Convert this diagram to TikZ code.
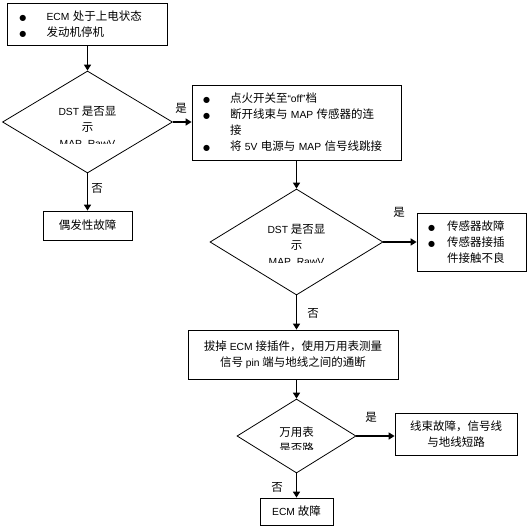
\documentclass[tikz,border=0pt]{standalone}
\usepackage{fontspec}
\setmainfont{Liberation Sans}
\newfontfamily\cjk{Noto Sans CJK SC}
\newfontfamily\dejavu{DejaVu Sans}
\usetikzlibrary{shapes.geometric,arrows.meta}
\newcommand\zh[1]{{\cjk\fontsize{11.5}{16}\selectfont #1}}
\newcommand\bul[1]{\makebox[#1][l]{\dejavu\fontsize{8}{8}\selectfont ●}}
\begin{document}
\begin{tikzpicture}[x=1pt,y=-1pt,
  every node/.style={font=\fontsize{10.3}{16}\selectfont},
  box/.style={draw,line width=0.8pt,inner ysep=0pt,inner xsep=0pt},
  bbox/.style={box,align=left,inner xsep=11pt},
  dia/.style={draw,diamond,line width=0.8pt,inner sep=0pt},
  conn/.style={line width=1.5pt,-{Triangle[length=6pt,width=7pt]}},
  lbl/.style={inner sep=0pt}]
\useasboundingbox (0,0) rectangle (529,527);
% boxes
\node[bbox,inner xsep=12pt,text width=136pt,minimum height=42pt] (b1) at (87.5,24)
  {\bul{27pt}ECM \zh{处于上电状态}\\\bul{27pt}\zh{发动机停机}};
\node[dia,minimum width=170pt,minimum height=102pt] (d1) at (87.5,122) {};
\node[box,minimum width=89pt,minimum height=29pt] (b7) at (87.5,225.5) {\zh{偶发性故障}};
\node[bbox,text width=187pt,minimum height=75pt] (b2) at (296.5,122.5)
  {\bul{27pt}\zh{点火开关至}“off”\zh{档}\\
   \bul{27pt}\zh{断开线束与} MAP \zh{传感器的连}\\
   \hspace*{27pt}\zh{接}\\
   \bul{27pt}\zh{将} 5V \zh{电源与} MAP \zh{信号线跳接}};
\node[dia,minimum width=173pt,minimum height=106pt] (d2) at (296.5,242) {};
\node[bbox,text width=87pt,minimum height=58pt] (b3) at (471.5,242)
  {\bul{19pt}\zh{传感器故障}\\\bul{19pt}\zh{传感器接插}\\\hspace*{19pt}\zh{件接触不良}};
\node[box,align=center,minimum width=210pt,minimum height=49pt] (b4) at (293,354.5)
  {\zh{拔掉} ECM \zh{接插件，使用万用表测量}\\\zh{信号} pin \zh{端与地线之间的通断}};
\node[dia,minimum width=119pt,minimum height=74pt] (d3) at (296.5,436) {};
\node[box,align=center,minimum width=122pt,minimum height=42pt] (b5) at (456,434)
  {\zh{线束故障，信号线}\\\zh{与地线短路}};
\node[box,minimum width=73pt,minimum height=27pt] (b6) at (296.5,511.5) {ECM \zh{故障}};
% clipped diamond texts
\begin{scope}
  \clip (0,90) rectangle (176,143);
  \node[align=center,lbl] (t1) at (87.5,128) {DST \zh{是否显}\\\zh{示}\\MAP\_RawV};
\end{scope}
\begin{scope}
  \clip (200,200) rectangle (390,262.5);
  \node[align=center,lbl] (t2) at (296.5,246) {DST \zh{是否显}\\\zh{示}\\MAP\_RawV};
\end{scope}
\begin{scope}
  \clip (240,410) rectangle (350,449);
  \node[align=center,lbl] (t3) at (296.5,440) {\zh{万用表}\\\zh{是否路}};
\end{scope}
% connectors
\draw[conn] (b1) -- (d1);
\draw[conn] (d1.east) -- (d1.east -| b2.west);
\draw[conn] (d1) -- (b7);
\draw[conn] (b2) -- (d2);
\draw[conn] (d2.east) -- (d2.east -| b3.west);
\draw[conn] (d2.south) -- (d2.south |- b4.north);
\draw[conn] (b4.south -| d3.north) -- (d3.north);
\draw[conn] (d3.east) -- (d3.east -| b5.west);
\draw[conn] (d3) -- (b6);
% labels
\node[lbl] (y1) at (181,108) {\zh{是}};
\node[lbl] (n1) at (97,188) {\zh{否}};
\node[lbl] (y2) at (399,212) {\zh{是}};
\node[lbl] (n2) at (313,313) {\zh{否}};
\node[lbl] (y3) at (371,417) {\zh{是}};
\node[lbl] (n3) at (277,487) {\zh{否}};
\end{tikzpicture}
\end{document}
